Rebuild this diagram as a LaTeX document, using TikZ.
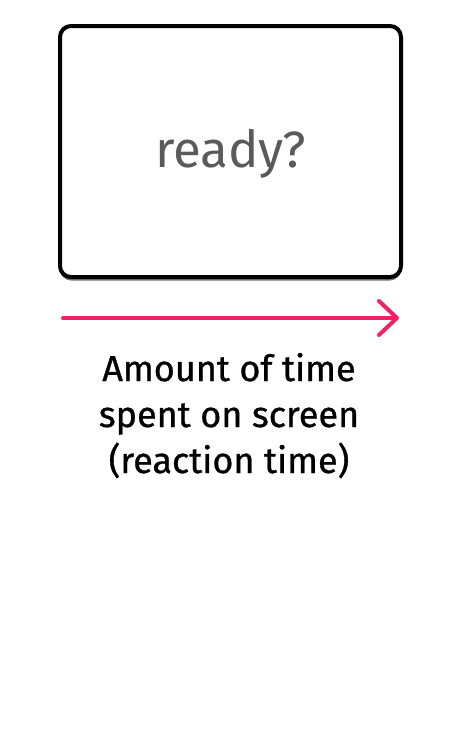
\documentclass[tikz,border=0pt]{standalone}
\usepackage{fontspec}
\setmainfont{Fira Sans}
\newfontfamily\capfont[FakeBold=0.8]{Fira Sans}
\usetikzlibrary{arrows.meta,shadows}
\definecolor{pinkarrow}{HTML}{EC2463}
\definecolor{readygray}{HTML}{5A5A5A}
\tikzset{
  screenbox/.style={draw=black, line width=4pt, rounded corners=11pt, fill=white,
    drop shadow={shadow xshift=0pt, shadow yshift=-3.5pt, fill=black!55, opacity=1}},
  timearrow/.style={draw=pinkarrow, line width=4pt, line cap=round,
    -{Straight Barb[length=18pt, width=34pt, line cap=round, round]}},
  caption/.style={align=center, font=\capfont\fontsize{36}{46}\selectfont, text=black}
}
\begin{document}
\begin{tikzpicture}[x=1pt,y=1pt]
\useasboundingbox (0,0) rectangle (461,-747);
\node[screenbox, minimum width=341pt, minimum height=251pt, inner sep=0pt] (screen) at (230.5,-151.5) {};
\node[text=readygray, font=\fontsize{51}{60}\selectfont, anchor=base] (ready) at (230.5,-167) {ready?};
\coordinate (astart) at (63,-318);
\coordinate (aend) at (399,-318);
\draw[timearrow] (astart) -- (aend);
\node[caption, anchor=base] (cap) at (229,-473) {Amount of time\\spent on screen\\(reaction time)};
\end{tikzpicture}
\end{document}
